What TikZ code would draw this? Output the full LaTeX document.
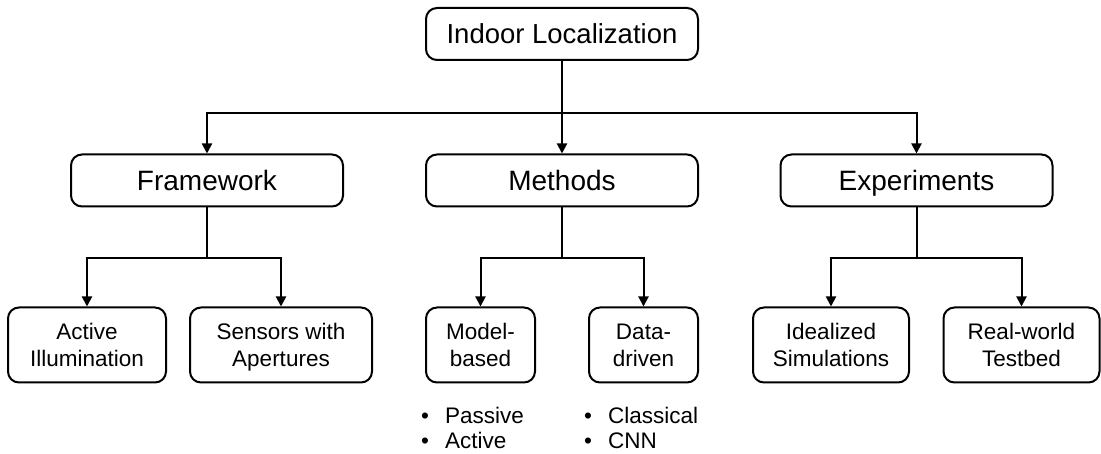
\documentclass[tikz,border=0pt]{standalone}
\usepackage{fontspec}
\setmainfont{Liberation Sans}
\usetikzlibrary{arrows.meta}

\tikzset{
  box/.style={draw, line width=2pt, rounded corners=11pt, inner sep=0pt, align=center, text depth=0pt},
  topbox/.style={box, minimum width=272pt, minimum height=52pt, text height=19.7pt, font=\fontsize{27.5}{31}\selectfont},
  midbox/.style={box, minimum width=272pt, minimum height=52pt, text height=20pt, font=\fontsize{28}{32}\selectfont},
  leafbox/.style={box, minimum height=75pt, font=\fontsize{22.5}{27}\selectfont},
  conn/.style={line width=2pt},
  bullets/.style={inner sep=0pt, align=left, anchor=north west, font=\fontsize{22.5}{25}\selectfont}
}

\begin{document}
\begin{tikzpicture}[x=1pt, y=-1pt, >={Triangle[length=10pt,width=10pt]}]
\useasboundingbox (0,0) rectangle (1101,454);

% Wurzel
\node[topbox] (root) at (562,34) {Indoor Localization};

% zweite Ebene
\node[midbox] (framework) at (207,180.5) {Framework};
\node[midbox] (methods) at (562,180.5) {Methods};
\node[midbox] (experiments) at (916.5,180.5) {Experiments};

% Blaetter
\node[leafbox, minimum width=158pt] (active) at (87,345) {Active\\Illumination};
\node[leafbox, minimum width=182pt] (sensors) at (281,345) {Sensors with\\Apertures};
\node[leafbox, minimum width=109pt] (model) at (480.5,345) {Model-\\based};
\node[leafbox, minimum width=109pt] (data) at (643.5,345) {Data-\\driven};
\node[leafbox, minimum width=156pt] (ideal) at (831,345) {Idealized\\Simulations};
\node[leafbox, minimum width=156pt] (real) at (1021.5,345) {Real-world\\Testbed};

% Aufzaehlungen
\node[bullets] (modellist) at (421,407) {\textbullet\hspace{16pt}Passive\\\textbullet\hspace{16pt}Active};
\node[bullets] (datalist) at (584,407) {\textbullet\hspace{16pt}Classical\\\textbullet\hspace{16pt}CNN};

% Verbindungen
\coordinate (rootbus) at (562,113);
\coordinate (framebus) at (207,258.5);
\coordinate (methbus) at (562,258.5);
\coordinate (expbus) at (916.5,258.5);

\draw[conn,->] (root) -- (methods);
\draw[conn,->] (rootbus) -| (framework);
\draw[conn,->] (rootbus) -| (experiments);

\draw[conn] (framework) -- (framebus);
\draw[conn,->] (framebus) -| (active);
\draw[conn,->] (framebus) -| (sensors);

\draw[conn] (methods) -- (methbus);
\draw[conn,->] (methbus) -| (model);
\draw[conn,->] (methbus) -| (data);

\draw[conn] (experiments) -- (expbus);
\draw[conn,->] (expbus) -| (ideal);
\draw[conn,->] (expbus) -| (real);

\end{tikzpicture}
\end{document}
